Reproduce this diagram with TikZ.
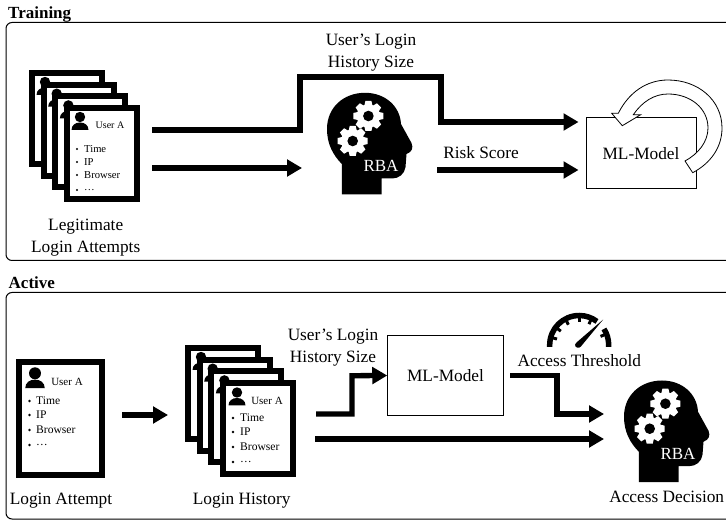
\documentclass[tikz,border=0pt]{standalone}
\usepackage{fontspec}
\setmainfont{Liberation Serif}
\usetikzlibrary{arrows.meta}
\newcommand{\fs}[1]{\fontsize{#1}{#1}\selectfont}
\tikzset{
  x=1pt,y=-1pt,
  label/.style={inner sep=0pt,align=center,font=\fs{17.3}},
  flow/.style={line width=5.3pt,miter limit=10,-{Triangle[width=16.5pt,length=15pt]}},
  modelbox/.style={draw=black,fill=white,line width=1pt,inner sep=0pt,font=\fs{17.3}},
  panel/.style={draw=black,line width=1pt,rounded corners=6pt},
  cardframe/.style={draw=black,fill=white,line width=6pt},
  pics/person/.style={code={
    \fill (0,0) circle (5.2);
    \fill (-8.5,13) .. controls (-8.5,8) and (-4.5,5.5) .. (0,5.5) .. controls (4.5,5.5) and (8.5,8) .. (8.5,13) -- cycle;
  }},
  pics/gear/.style={code={
    \fill[white] (0,0) circle (11.6);
    \foreach \a in {0,45,...,315}{
      \fill[white,rotate=\a] (-3,-15) -- (3,-15) -- (4.4,-9) -- (-4.4,-9) -- cycle;
    }
    \fill (0,0) circle (5.3);
  }},
  pics/head/.style={code={
    \fill (341.8,194.5) -- (341.8,164)
      .. controls (333,155) and (327,144) .. (327,129)
      .. controls (327,107) and (344,92.8) .. (365,92.8)
      .. controls (385,92.8) and (400,106) .. (401,124)
      -- (411.5,143) .. controls (413.5,148) and (412,152) .. (406.5,154)
      -- (405.5,167) .. controls (404.5,174) and (399,178.5) .. (392,178.5)
      -- (381.7,178.5) -- (381.7,194.5) -- cycle;
    \pic at (368.4,116) {gear};
    \pic at (352.7,141) {gear};
    \node[white,inner sep=0pt,font=\fs{17}] at (381,166) {RBA};
  }}
}
% card behind others: only what stays visible of it
\newcommand{\cardB}[2]{%
  \begin{scope}[shift={(#1,#2)}]
    \draw[cardframe] (3,3) rectangle (73,94);
    \pic at (16,12) {person};
  \end{scope}}
\newcommand{\cardT}[2]{%
  \begin{scope}[shift={(#1,#2)}]
    \draw[cardframe] (3,3) rectangle (73,94);
    \pic at (16,12) {person};
    \node[inner sep=0pt,font=\fs{10}] at (46,20) {User A};
    \foreach \yy/\tx in {44/Time,57/IP,70/Browser,85/…}{
      \fill (13,\yy) circle (1.2);
      \node[anchor=west,inner sep=0pt,font=\fs{10.6}] at (20,\yy) {\tx};
    }
  \end{scope}}
\newcommand{\cardA}[2]{%
  \begin{scope}[shift={(#1,#2)}]
    \draw[cardframe] (3,3) rectangle (73,94);
    \pic at (17,12.5) {person};
    \node[inner sep=0pt,font=\fs{11}] at (47,21) {User A};
    \foreach \yy/\tx in {38/Time,52/IP,67/Browser,82/…}{
      \fill (13,\yy) circle (1.3);
      \node[anchor=west,inner sep=0pt,font=\fs{11.6}] at (20,\yy) {\tx};
    }
  \end{scope}}
\begin{document}
\begin{tikzpicture}
\useasboundingbox (0,0) rectangle (726,521);
% panels
\node[anchor=west,inner sep=0pt,font=\bfseries\fs{17}] (ttl1) at (8,14) {Training};
\node[anchor=west,inner sep=0pt,font=\bfseries\fs{17}] (ttl2) at (8.5,283) {Active};
\draw[panel] (740,22.5) -- (6,22.5) -- (6,260.5) -- (740,260.5);
\draw[panel] (740,292.5) -- (6,292.5) -- (6,519) -- (740,519);

% ---------- Training
\cardB{29}{70}\cardB{40.7}{81.7}\cardB{52.4}{93.4}\cardT{64}{105}
\node[label] (legit) at (85.7,237.5) {Legitimate\\[4.5pt]Login Attempts};
\pic at (0,0) {head};
\node[modelbox,minimum width=110pt,minimum height=71pt] (ml1) at (641,153.5) {ML-Model};
\coordinate (s1) at (152,130);
\coordinate (s2) at (152,168);
\coordinate (e1) at (578.5,122);
\coordinate (e2) at (302,168);
\coordinate (s3) at (437,170);
\coordinate (e3) at (578.5,170);
\draw[flow] (s1) -- (300,130) -- (300,77) -- (441,77) -- (441,122) -- (e1);
\draw[flow] (s2) -- (e2);
\draw[flow] (s3) -- (e3);
\node[label] (hist1) at (371,52.5) {User’s Login\\[4.7pt]History Size};
\node[label] (risk) at (481,153) {Risk Score};
% loop arrow
\filldraw[fill=white,draw=black,line width=.8pt,line join=miter]
  (692.7,172.7) .. controls (711,163) and (722,147) .. (722,128)
  .. controls (722,100) and (698,80) .. (668,80)
  .. controls (647,80) and (629,92) .. (618.3,113.3)
  -- (611.7,113.3) -- (622.3,125.7) -- (640.7,114.7) -- (633.3,114.7)
  .. controls (642,102) and (654,94) .. (668,94)
  .. controls (690,94) and (708,108) .. (708,128)
  .. controls (708,142) and (698,154) .. (685,161) -- cycle;

% ---------- Active
\begin{scope}[shift={(16,359)}]
  \draw[cardframe] (3,3) rectangle (85.7,115.5);
  \pic[scale=1.15] at (19,14.3) {person};
  \node[inner sep=0pt,font=\fs{11}] (usr) at (51,23) {User A};
  \foreach \yy/\tx in {42/Time,56/IP,71/Browser,86/…}{
    \fill (13.5,\yy) circle (1.3);
    \node[anchor=west,inner sep=0pt,font=\fs{11.6}] at (20,\yy) {\tx};
  }
\end{scope}
\node[label] (att) at (61,501) {Login Attempt};
\coordinate (s4) at (122,415);
\coordinate (e4) at (168,415);
\draw[flow] (s4) -- (e4);
\cardB{185}{345}\cardB{196.7}{356.7}\cardB{208.4}{368.4}\cardA{220}{380}
\node[label] (hist) at (241.7,501) {Login History};
\node[label] (hist2) at (333,348) {User’s Login\\[4.7pt]History Size};
\node[modelbox,minimum width=115.5pt,minimum height=79.5pt] (ml2) at (445.5,375.5) {ML-Model};
\coordinate (s5) at (316,414);
\draw[flow] (s5) -- (352,414) -- (352,375.7) -- (ml2.west);
\coordinate (s6) at (315,439);
\coordinate (e6) at (604,439);
\draw[flow] (s6) -- (e6);
\coordinate (s7) at (510,375.7);
\coordinate (e7) at (604,414);
\draw[flow] (s7) -- (557,375.7) -- (557,414) -- (e7);
\begin{scope}[shift={(297,287.7)}]
  \pic at (0,0) {head};
\end{scope}
\node[label] (thr) at (579.3,361) {Access Threshold};
\node[label] (dec) at (666.7,496.7) {Access Decision};
% gauge
\begin{scope}[shift={(579.2,345)},y=1pt]
  \draw[line width=5.5pt] (-29.5,-2) -- (-29.5,0) arc[start angle=180,end angle=53,radius=29.5];
  \draw[line width=5.5pt] (29.5,-2) -- (29.5,0) arc[start angle=0,end angle=33,radius=29.5];
  \foreach \a in {165,143,118,90,65,22}{
    \fill[rotate=\a] (23,-1.5) rectangle (28,1.5);
  }
  \fill (1.6,-1.6) .. controls (0,-3.6) and (-4.4,-3) .. (-4.2,0.4)
        .. controls (-4.2,1.6) and (-3.6,2.4) .. (-2.6,2.6) -- (24,25.5) -- cycle;
\end{scope}
\end{tikzpicture}
\end{document}
